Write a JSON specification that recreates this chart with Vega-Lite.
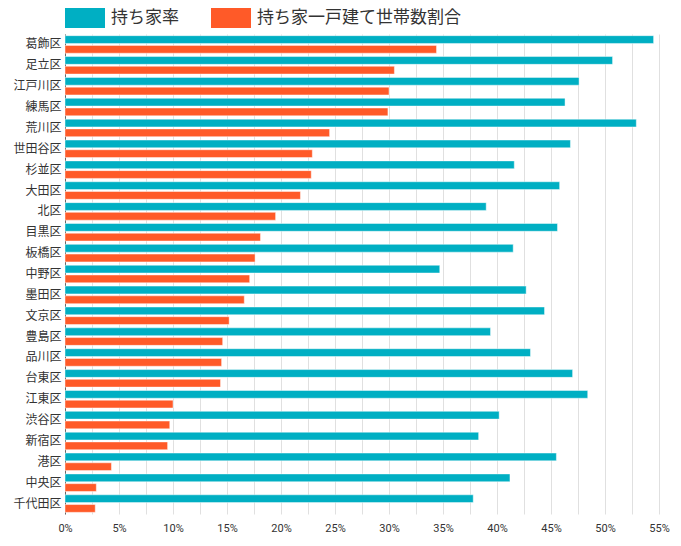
{
  "$schema": "https://vega.github.io/schema/vega-lite/v6.json",
  "autosize": "none",
  "padding": {"left": 65, "top": 34, "right": 22, "bottom": 32},
  "width": 594,
  "height": 480,
  "data": {
    "values": [
      {"ward": "葛飾区", "持ち家率": 54.5, "持ち家一戸建て世帯数割合": 34.4},
      {"ward": "足立区", "持ち家率": 50.7, "持ち家一戸建て世帯数割合": 30.5},
      {"ward": "江戸川区", "持ち家率": 47.6, "持ち家一戸建て世帯数割合": 30.0},
      {"ward": "練馬区", "持ち家率": 46.3, "持ち家一戸建て世帯数割合": 29.9},
      {"ward": "荒川区", "持ち家率": 52.9, "持ち家一戸建て世帯数割合": 24.5},
      {"ward": "世田谷区", "持ち家率": 46.8, "持ち家一戸建て世帯数割合": 22.9},
      {"ward": "杉並区", "持ち家率": 41.6, "持ち家一戸建て世帯数割合": 22.8},
      {"ward": "大田区", "持ち家率": 45.8, "持ち家一戸建て世帯数割合": 21.8},
      {"ward": "北区", "持ち家率": 39.0, "持ち家一戸建て世帯数割合": 19.5},
      {"ward": "目黒区", "持ち家率": 45.6, "持ち家一戸建て世帯数割合": 18.1},
      {"ward": "板橋区", "持ち家率": 41.5, "持ち家一戸建て世帯数割合": 17.6},
      {"ward": "中野区", "持ち家率": 34.7, "持ち家一戸建て世帯数割合": 17.1},
      {"ward": "墨田区", "持ち家率": 42.7, "持ち家一戸建て世帯数割合": 16.6},
      {"ward": "文京区", "持ち家率": 44.4, "持ち家一戸建て世帯数割合": 15.2},
      {"ward": "豊島区", "持ち家率": 39.4, "持ち家一戸建て世帯数割合": 14.6},
      {"ward": "品川区", "持ち家率": 43.1, "持ち家一戸建て世帯数割合": 14.5},
      {"ward": "台東区", "持ち家率": 47.0, "持ち家一戸建て世帯数割合": 14.4},
      {"ward": "江東区", "持ち家率": 48.4, "持ち家一戸建て世帯数割合": 10.0},
      {"ward": "渋谷区", "持ち家率": 40.2, "持ち家一戸建て世帯数割合": 9.7},
      {"ward": "新宿区", "持ち家率": 38.3, "持ち家一戸建て世帯数割合": 9.5},
      {"ward": "港区", "持ち家率": 45.5, "持ち家一戸建て世帯数割合": 4.3},
      {"ward": "中央区", "持ち家率": 41.2, "持ち家一戸建て世帯数割合": 2.9},
      {"ward": "千代田区", "持ち家率": 37.8, "持ち家一戸建て世帯数割合": 2.8}
    ]
  },
  "transform": [
    {"fold": ["持ち家率", "持ち家一戸建て世帯数割合"], "as": ["series", "value"]}
  ],
  "mark": {"type": "bar", "stroke": "white", "strokeOpacity": 0.45, "strokeWidth": 1},
  "encoding": {
    "y": {
      "field": "ward",
      "type": "nominal",
      "sort": null,
      "title": null,
      "scale": {"paddingInner": 0.16, "paddingOuter": 0.08},
      "axis": {
        "ticks": false,
        "labelPadding": 4,
        "labelFontSize": 12,
        "labelFont": "Noto Sans CJK JP",
        "labelColor": "#333333",
        "domainColor": "#666666",
        "grid": false
      }
    },
    "yOffset": {
      "field": "series",
      "type": "nominal",
      "sort": ["持ち家率", "持ち家一戸建て世帯数割合"],
      "scale": {"paddingInner": 0.2}
    },
    "x": {
      "field": "value",
      "type": "quantitative",
      "title": null,
      "scale": {"domain": [0, 55], "nice": false},
      "axis": {
        "values": [0, 2.5, 5, 7.5, 10, 12.5, 15, 17.5, 20, 22.5, 25, 27.5, 30, 32.5, 35, 37.5, 40, 42.5, 45, 47.5, 50, 52.5, 55],
        "labelExpr": "datum.value % 5 == 0 ? datum.value + '%' : ''",
        "ticks": false,
        "domain": false,
        "labelPadding": 8,
        "labelFontSize": 11,
        "labelFont": "Roboto",
        "labelColor": "#333333",
        "gridColor": "#e0e0e0",
        "labelFlush": false
      }
    },
    "color": {
      "field": "series",
      "type": "nominal",
      "title": null,
      "scale": {
        "domain": ["持ち家率", "持ち家一戸建て世帯数割合"],
        "range": ["#00afc3", "#ff5a28"]
      },
      "legend": {
        "orient": "top",
        "direction": "horizontal",
        "offset": 6,
        "symbolType": "M-1,-0.5H1V0.5H-1Z",
        "symbolSize": 1600,
        "symbolStrokeWidth": 0,
        "symbolOpacity": 1,
        "labelFontSize": 17,
        "labelFont": "Noto Sans CJK JP",
        "labelColor": "#333333",
        "labelOffset": 6,
        "columnPadding": 32,
        "labelLimit": 400
      }
    }
  },
  "config": {"view": {"stroke": null}}
}
